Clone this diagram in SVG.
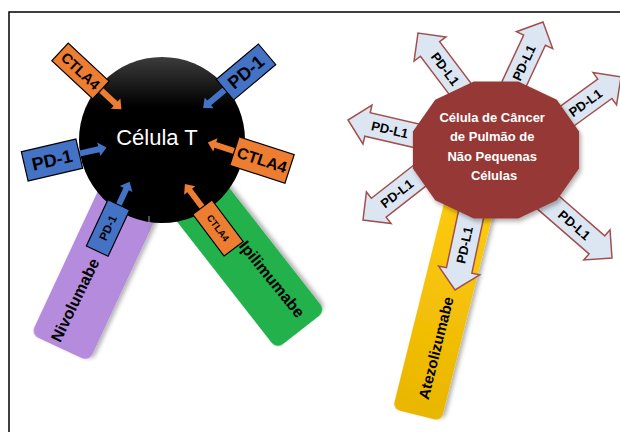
<svg xmlns="http://www.w3.org/2000/svg" width="620" height="432" viewBox="0 0 620 432">
<defs>
<style>
.lbl{font-family:"Liberation Sans",Arial,sans-serif;font-weight:bold;fill:#000;text-anchor:middle}
.wht{font-family:"Liberation Sans",Arial,sans-serif;fill:#fff;text-anchor:middle}
.org{fill:#ED7D31}
.blu{fill:#4472C4}
.box{stroke:#000;stroke-width:1.2}
.pdl{fill:#DCE6F2;stroke:#A0504D;stroke-width:1.5}
</style>
<filter id="sh" x="-20%" y="-20%" width="140%" height="140%">
<feDropShadow dx="2" dy="3" stdDeviation="2" flood-color="#000" flood-opacity="0.3"/>
</filter>
<linearGradient id="cellg" x1="0" y1="0" x2="0" y2="1">
<stop offset="0" stop-color="#3c3c3c"/>
<stop offset="0.3" stop-color="#000"/>
<stop offset="1" stop-color="#000"/>
</linearGradient>
<linearGradient id="yel" x1="0" y1="0" x2="1" y2="0">
<stop offset="0" stop-color="#E9B600"/>
<stop offset="1" stop-color="#FFCB10"/>
</linearGradient>
</defs>
<rect width="620" height="432" fill="#fff"/>
<g id="frame"><path d="M9,432 V12 H620" fill="none" stroke="#000" stroke-width="1.5"/></g>

<g id="bar-nivolumabe">
<rect transform="translate(60,348) rotate(-65)" x="0" y="-32" width="200" height="64" rx="8" fill="#B58CDD" filter="url(#sh)"/>
<text class="lbl" font-size="16" transform="translate(75,300) rotate(-64)" dy="0.35em">Nivolumabe</text>
</g>
<g id="bar-ipilimumabe">
<rect transform="translate(301,330) rotate(-128)" x="0" y="-31" width="180" height="62" rx="8" fill="#22B14C" filter="url(#sh)"/>
<text class="lbl" font-size="16" transform="translate(272,279) rotate(51)" dy="0.35em">Ipilimumabe</text>
</g>

<g id="t-cell">
<circle cx="162" cy="140" r="83" fill="url(#cellg)"/>
<text class="wht" font-size="22" x="157" y="137" dy="0.35em">Célula T</text>
<line x1="149" y1="216" x2="149" y2="232" stroke="#999" stroke-width="1"/>
</g>

<g id="callouts">
<g id="ctla4-tl" transform="translate(80.5,71) rotate(43)">
<path class="org" d="M28,-3 H48 V-7 L56,0 L48,7 V3 H28 Z"/>
<rect class="org box" x="-28" y="-12" width="56" height="24"/>
<text class="lbl" font-size="14.5" dy="0.35em">CTLA4</text>
</g>
<g id="pd1-tr" transform="translate(246,72) rotate(-40)">
<path class="blu" d="M-27,-3 H-48 V-7 L-56,0 L-48,7 V3 H-27 Z"/>
<rect class="blu box" x="-27.5" y="-13.5" width="55" height="27"/>
<text class="lbl" font-size="18" dy="0.35em">PD-1</text>
</g>
<g id="pd1-l" transform="translate(52,160) rotate(-13)">
<path class="blu" d="M28,-3 H48 V-7 L56,0 L48,7 V3 H28 Z"/>
<rect class="blu box" x="-28" y="-15" width="56" height="30"/>
<text class="lbl" font-size="18" dy="0.35em">PD-1</text>
</g>
<g id="ctla4-r" transform="translate(262,160) rotate(18)">
<path class="org" d="M-29,-3 H-49 V-7 L-57,0 L-49,7 V3 H-29 Z"/>
<rect class="org box" x="-29" y="-15" width="58" height="30"/>
<text class="lbl" font-size="16" dy="0.35em">CTLA4</text>
</g>
<g id="pd1-bl" transform="translate(108,228) rotate(-65)">
<path class="blu" d="M25,-3 H43 V-7 L51,0 L43,7 V3 H25 Z"/>
<rect class="blu box" x="-25.5" y="-12" width="51" height="24"/>
<text class="lbl" font-size="11.5" dy="0.35em">PD-1</text>
</g>
<g id="ctla4-br" transform="translate(218,228) rotate(53)">
<path class="org" d="M-26,-3 H-47 V-7 L-55,0 L-47,7 V3 H-26 Z"/>
<rect class="org box" x="-26" y="-12" width="52" height="24"/>
<text class="lbl" font-size="9.5" dy="0.35em">CTLA4</text>
</g>
</g>

<g id="bar-atezolizumabe">
<rect transform="translate(417,415) rotate(-76)" x="0" y="-25" width="230" height="50" rx="7" fill="url(#yel)" filter="url(#sh)"/>
<text class="lbl" font-size="15" transform="translate(436,348) rotate(-76)" dy="0.35em">Atezolizumabe</text>
</g>

<g id="connectors">
<g id="pdl1-a" transform="translate(418,33) rotate(-127)">
<path class="pdl" d="M-90,-12 H-20 V-20 L0,0 L-20,20 V12 H-90 Z"/>
<text class="lbl" font-size="13" transform="translate(-45,0) rotate(180)" dy="0.35em">PD-L1</text>
</g>
<g id="pdl1-b" transform="translate(348,120) rotate(-167)">
<path class="pdl" d="M-100,-12 H-20 V-20 L0,0 L-20,20 V12 H-100 Z"/>
<text class="lbl" font-size="13" transform="translate(-43,0) rotate(180)" dy="0.35em">PD-L1</text>
</g>
<g id="pdl1-c" transform="translate(543,22) rotate(-65)">
<path class="pdl" d="M-85,-12 H-20 V-20 L0,0 L-20,20 V12 H-85 Z"/>
<text class="lbl" font-size="13" transform="translate(-45,0)" dy="0.35em">PD-L1</text>
</g>
<g id="pdl1-d" transform="translate(621,77) rotate(-36)">
<path class="pdl" d="M-95,-12 H-20 V-20 L0,0 L-20,20 V12 H-95 Z"/>
<text class="lbl" font-size="13" transform="translate(-44,0)" dy="0.35em">PD-L1</text>
</g>
<g id="pdl1-e" transform="translate(363,220) rotate(142)">
<path class="pdl" d="M-100,-12 H-20 V-20 L0,0 L-20,20 V12 H-100 Z"/>
<text class="lbl" font-size="13" transform="translate(-43,0) rotate(180)" dy="0.35em">PD-L1</text>
</g>
<g id="pdl1-f" transform="translate(455,290) rotate(102)">
<path class="pdl" d="M-95,-13 H-20 V-21 L0,0 L-20,21 V13 H-95 Z"/>
<text class="lbl" font-size="13" transform="translate(-46,0) rotate(180)" dy="0.35em">PD-L1</text>
</g>
<g id="pdl1-g" transform="translate(612,258) rotate(41)">
<path class="pdl" d="M-105,-12 H-20 V-20 L0,0 L-20,20 V12 H-105 Z"/>
<text class="lbl" font-size="13" transform="translate(-50,0)" dy="0.35em">PD-L1</text>
</g>
</g>

<g id="cancer-cell">
<polygon points="579.1,168.4 556.8,200.2 518.3,218.6 473.7,218.6 435.2,200.2 412.9,168.4 412.9,131.6 435.2,99.8 473.7,81.4 518.3,81.4 556.8,99.8 579.1,131.6" fill="#963836" filter="url(#sh)"/>
<text class="wht" font-size="13" font-weight="bold">
<tspan x="494" y="121.5">Célula de Câncer</tspan>
<tspan x="494" y="141">de Pulmão de</tspan>
<tspan x="494" y="160.5">Não Pequenas</tspan>
<tspan x="494" y="180">Células</tspan>
</text>
</g>
</svg>
